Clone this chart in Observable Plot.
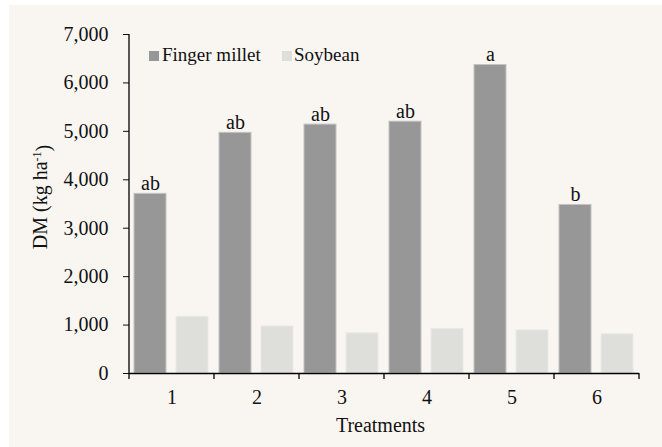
<!DOCTYPE html>
<html><head><meta charset="utf-8">
<script src="https://cdn.jsdelivr.net/npm/d3@7"></script>
<script src="https://cdn.jsdelivr.net/npm/@observablehq/plot@0.6"></script>
<style>
body{margin:0;background:#fff;width:662px;height:447px;overflow:hidden;position:relative;}
#wrap{position:absolute;left:9px;top:5px;width:653px;height:442px;background:#f9f6f2;}
#wrap svg{display:block;}
.lg{position:absolute;font-family:'Liberation Serif','Times New Roman',serif;font-size:19px;line-height:19px;color:#111;white-space:nowrap;}
.sq{position:absolute;width:10px;height:10px;}
</style></head><body>
<div id="wrap"></div>
<div class="sq" style="left:149px;top:51px;background:#979797"></div>
<div class="lg" style="left:162px;top:45px">Finger millet</div>
<div class="sq" style="left:282px;top:51px;background:#dededb"></div>
<div class="lg" style="left:294px;top:45px">Soybean</div>
<script>
const treatments = ["1","2","3","4","5","6"];
const crops = ["Finger millet","Soybean"];
const milletDM = [3710,4970,5140,5200,6370,3480];
const soybeanDM = [1170,970,830,920,890,810];
const milletLetters = ["ab","ab","ab","ab","a","b"];
const yTicks = [0,1000,2000,3000,4000,5000,6000,7000];

const millet = treatments.map((t,i)=>({treatment:t,crop:crops[0],dm:milletDM[i],letter:milletLetters[i]}));
const soy = treatments.map((t,i)=>({treatment:t,crop:crops[1],dm:soybeanDM[i]}));

const plot = Plot.plot({
  width:653, height:442,
  marginLeft:119, marginRight:23, marginTop:29, marginBottom:74,
  style:{background:"transparent", fontFamily:"'Liberation Serif','Times New Roman',serif", fontSize:"20px", color:"#111", overflow:"visible"},
  fx:{domain:treatments, padding:0, label:"Treatments", tickSize:0, tickPadding:16, labelOffset:58},
  x:{domain:crops, paddingInner:0.233, paddingOuter:0.107, axis:null},
  y:{domain:[0,7000], ticks:yTicks, tickFormat:d3.format(",d"), tickSize:6, tickPadding:15, label:"DM (kg ha-1)", labelAnchor:"center", labelOffset:97},
  marks:[
    Plot.barY(millet,{fx:"treatment", x:"crop", y:"dm", fill:"#979797", stroke:"#c4c4c4", strokeWidth:1}),
    Plot.barY(soy,{fx:"treatment", x:"crop", y:"dm", fill:"#dededb", stroke:"#e9e9e7", strokeWidth:1}),
    Plot.text(millet,{fx:"treatment", x:"crop", y:"dm", text:"letter", lineAnchor:"bottom", dy:-4, fontSize:20, fill:"#111"}),
    Plot.ruleY([0],{stroke:"#000", strokeWidth:1.3})
  ]
});
document.getElementById("wrap").appendChild(plot);

const svg = d3.select(plot);
const fxs = plot.scale("fx");
const ys = plot.scale("y");
const y0 = ys.apply(0), yTop = ys.apply(7000);
const bounds = treatments.map(t=>fxs.apply(t));
bounds.push(fxs.apply(treatments[treatments.length-1]) + fxs.bandwidth);
const g = svg.append("g").attr("stroke","#000").attr("stroke-width",1.3);
g.append("line").attr("x1",bounds[0]).attr("x2",bounds[0]).attr("y1",yTop).attr("y2",y0);
bounds.forEach(b=>g.append("line").attr("x1",b).attr("x2",b).attr("y1",y0).attr("y2",y0+6));

svg.selectAll("text").filter(function(){return this.textContent.includes("DM (kg ha");}).each(function(){
  const t = d3.select(this);
  t.text(null);
  t.append("tspan").attr("dx","7").text("DM (kg ha");
  t.append("tspan").attr("dy","-0.45em").attr("font-size","0.6em").text("-1");
  t.append("tspan").attr("dy","0.45em").text(")");
});
svg.selectAll("text").filter(function(){return this.textContent === "Treatments";}).attr("dx", -4);
svg.selectAll("[aria-label='y-axis tick'], [aria-label='fx-axis tick']").attr("stroke","#000");
</script>
</body></html>
